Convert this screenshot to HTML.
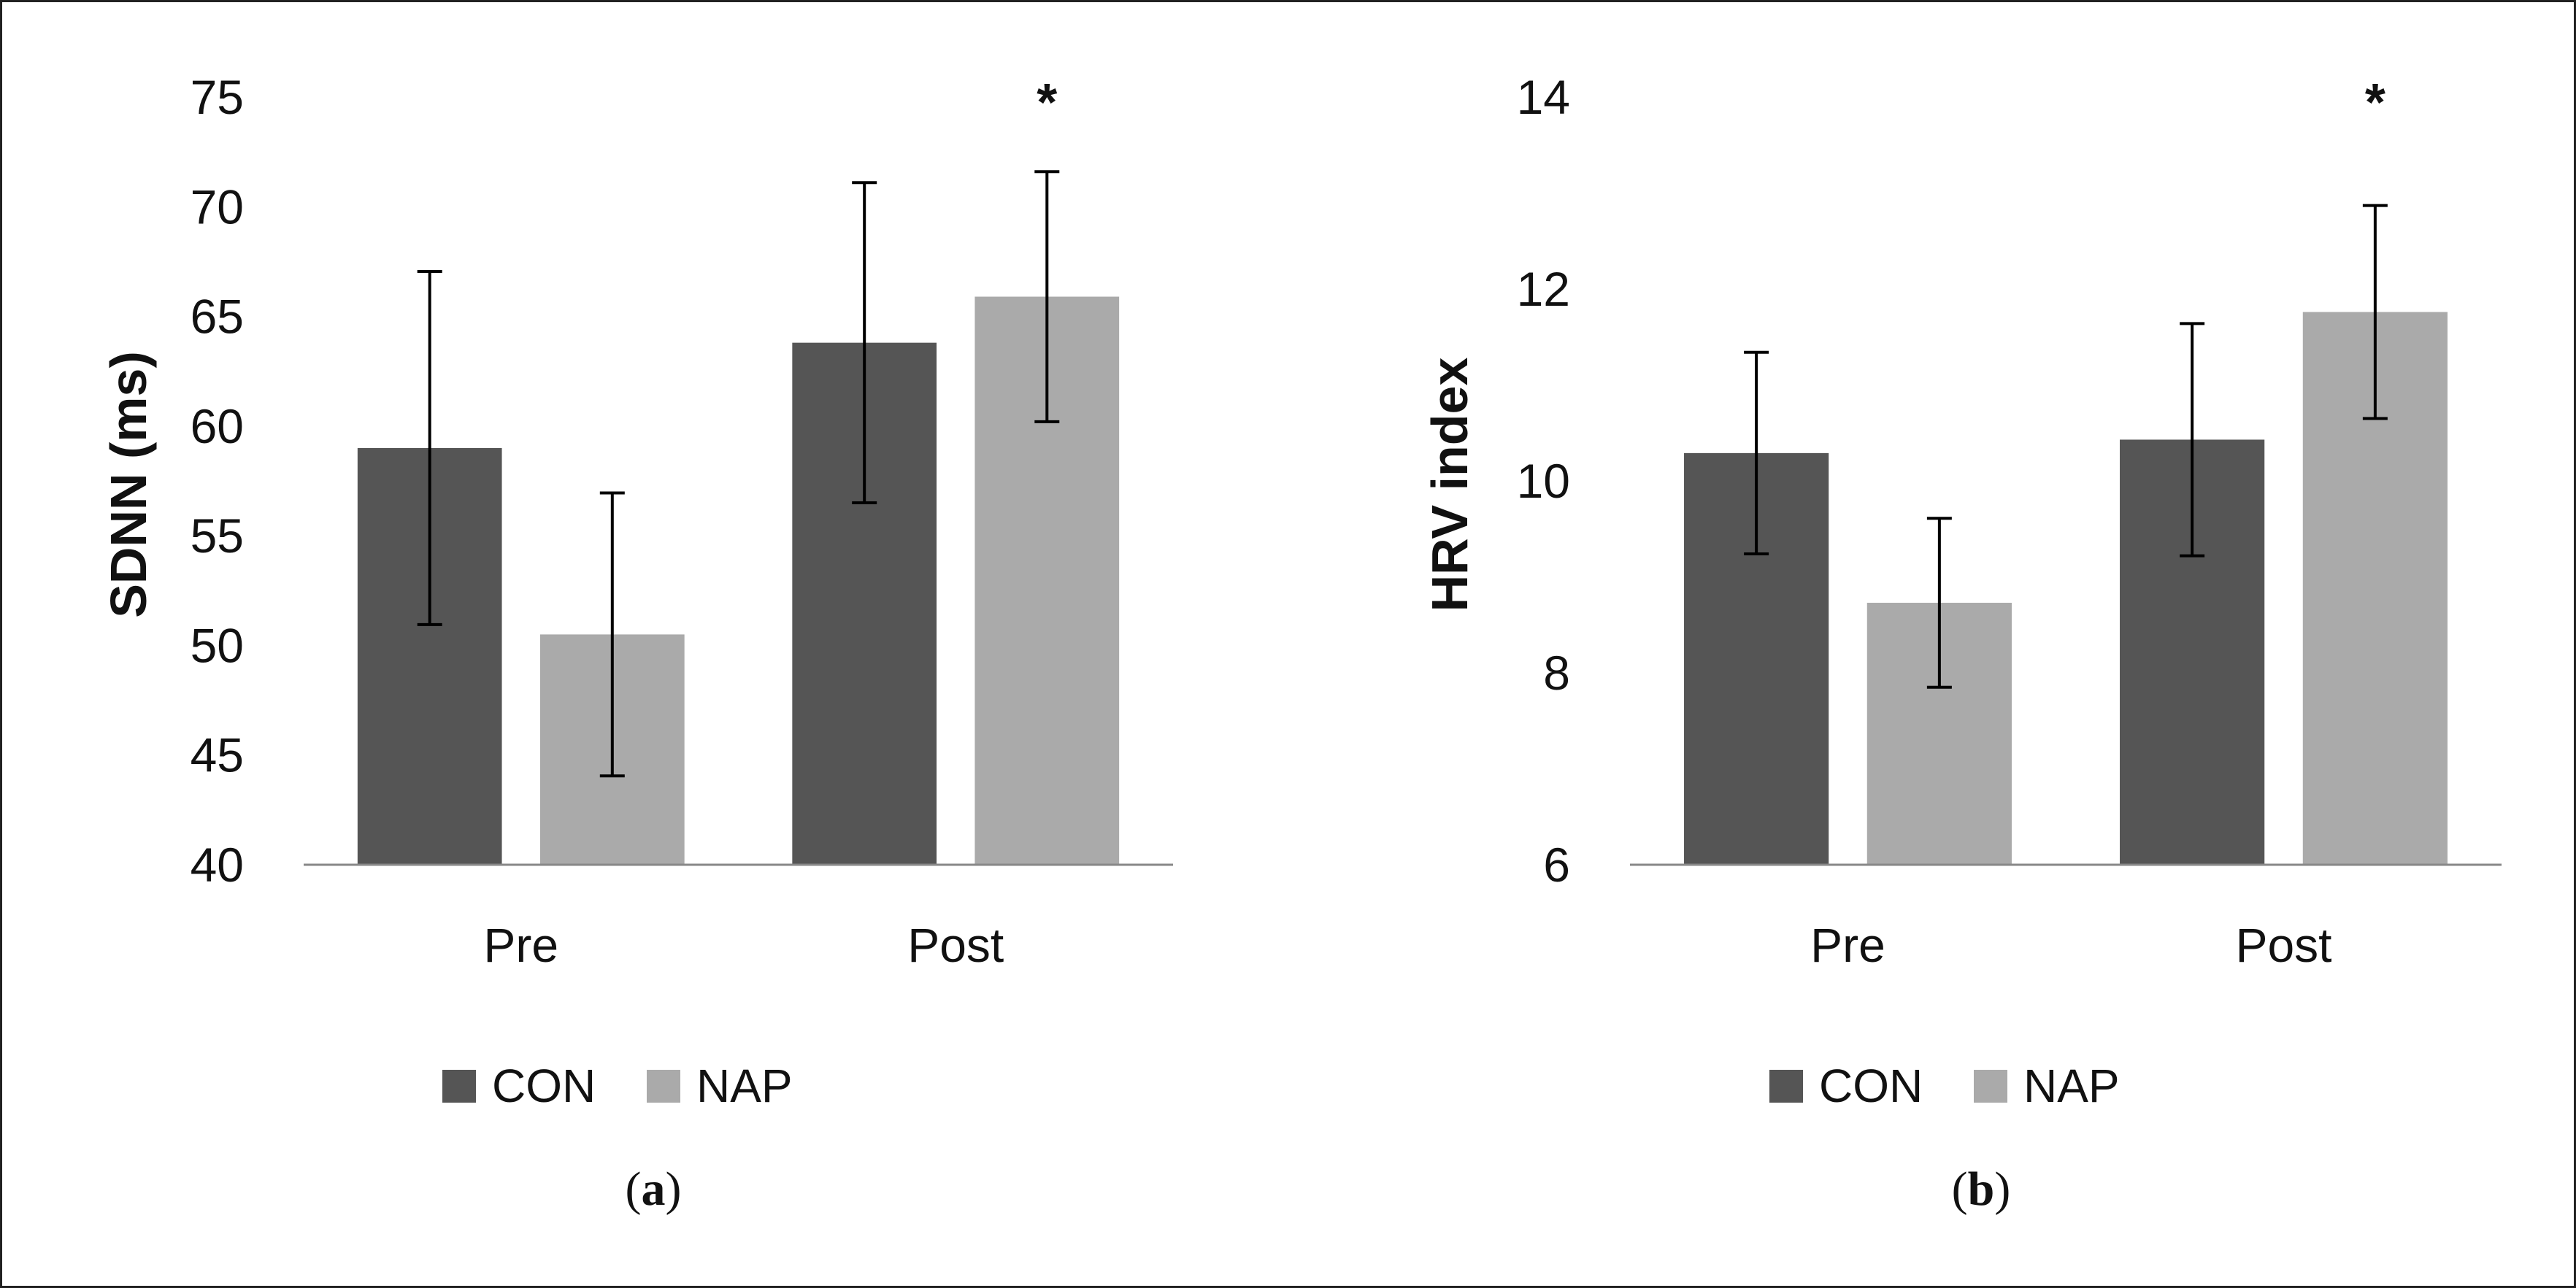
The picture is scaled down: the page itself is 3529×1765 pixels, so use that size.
<!DOCTYPE html>
<html><head><meta charset="utf-8"><style>
html,body{margin:0;padding:0;background:#fff;}
svg{display:block;font-family:"Liberation Sans",sans-serif;}
</style></head><body>
<svg id="fig" width="3529" height="1765" viewBox="0 0 3529 1765">
<rect x="1.5" y="1.5" width="3526" height="1762" fill="#fff" stroke="#222" stroke-width="3"/>
<g id="pa"></g>
<g id="pb"></g>
</svg>
<script>
const categories = ["Pre", "Post"];
const seriesNames = ["CON", "NAP"];
const aCon = [59.0, 63.8];
const aNap = [50.5, 65.9];
const aConErr = [8.05, 7.3];
const aNapErr = [6.45, 5.7];
const aTicks = [40, 45, 50, 55, 60, 65, 70, 75];
const bCon = [10.29, 10.43];
const bNap = [8.73, 11.76];
const bConErr = [1.05, 1.21];
const bNapErr = [0.88, 1.11];
const bTicks = [6, 8, 10, 12, 14];
const aStars = ["", "*"];
const bStars = ["", "*"];

const NS = "http://www.w3.org/2000/svg";
function mk(parent, tag, attrs, text) {
  const e = document.createElementNS(NS, tag);
  for (const k in attrs) e.setAttribute(k, attrs[k]);
  if (text !== undefined) e.textContent = text;
  parent.appendChild(e);
  return e;
}
function panel(g, cfg) {
  const {x0, x1, yTop, yBot, ticks, con, nap, conErr, napErr, stars, label, title, titleX, tickX} = cfg;
  const vmin = ticks[0], vmax = ticks[ticks.length - 1];
  const Y = v => yBot - (v - vmin) / (vmax - vmin) * (yBot - yTop);
  const W = x1 - x0, groupW = W / categories.length, barW = groupW * 0.332;
  const gap = groupW * 0.088;
  ticks.forEach(t => {
    const e = mk(g, "text", {x: tickX, y: Y(t) + 23, "text-anchor": "end", "font-size": 66, fill: "#111"}, String(t));
    
    
  });
  const series = [[con, conErr, "#555555"], [nap, napErr, "#aaaaaa"]];
  categories.forEach((c, i) => {
    const cx = x0 + groupW * (i + 0.5);
    series.forEach((s, j) => {
      const bx = j === 0 ? cx - gap / 2 - barW : cx + gap / 2;
      const v = s[0][i], er = s[1][i];
      const r = mk(g, "rect", {x: bx, y: Y(v), width: barW, height: yBot - Y(v), fill: s[2]});
      
      
      const mx = bx + barW / 2;
      const eb = mk(g, "path", {d: `M${mx},${Y(v + er)}V${Y(v - er)}M${mx - 17},${Y(v + er)}H${mx + 17}M${mx - 17},${Y(v - er)}H${mx + 17}`, stroke: "#000", "stroke-width": 4, fill: "none"});
      
      
      if (j === 1 && stars[i]) {
        const st = mk(g, "text", {x: mx, y: 165, "text-anchor": "middle", "font-size": 72, "font-weight": "bold", fill: "#111"}, stars[i]);
        
        
      }
    });
    const cl = mk(g, "text", {x: cx, y: 1318, "text-anchor": "middle", "font-size": 66, fill: "#111"}, c);
    
    
  });
  const ax = mk(g, "line", {x1: x0, x2: x1, y1: yBot, y2: yBot, stroke: "#888", "stroke-width": 3});
  
  
  const yt = mk(g, "text", {x: 0, y: 0, transform: `translate(${titleX},664) rotate(-90)`, "text-anchor": "middle", "font-size": 70, "font-weight": "bold", fill: "#111"}, title);
  
  
  const lx = cfg.legX;
  [["CON", "#555555", 0], ["NAP", "#aaaaaa", 280]].forEach(([n, col, off]) => {
    const sq = mk(g, "rect", {x: lx + off, y: 1466, width: 46, height: 45, fill: col});
    
    
    const lt = mk(g, "text", {x: lx + off + 68, y: 1510, "font-size": 64, fill: "#111"}, n);
    
    
  });
  const pl = mk(g, "text", {x: cfg.capX, y: 1651, "text-anchor": "middle", "font-size": 66, "font-family": "Liberation Serif, serif", fill: "#111"});
  
  
  mk(pl, "tspan", {}, "(");
  mk(pl, "tspan", {"font-weight": "bold"}, label);
  mk(pl, "tspan", {}, ")");
}
panel(document.getElementById("pa"), {x0: 416, x1: 1607, yTop: 133, yBot: 1185, ticks: aTicks, con: aCon, nap: aNap, conErr: aConErr, napErr: aNapErr, stars: aStars, label: "a", title: "SDNN (ms)", titleX: 200, tickX: 334, legX: 606, capX: 895});
panel(document.getElementById("pb"), {x0: 2233, x1: 3427, yTop: 133, yBot: 1185, ticks: bTicks, con: bCon, nap: bNap, conErr: bConErr, napErr: bNapErr, stars: bStars, label: "b", title: "HRV index", titleX: 2010, tickX: 2151, legX: 2424, capX: 2714});
</script>
</body></html>
